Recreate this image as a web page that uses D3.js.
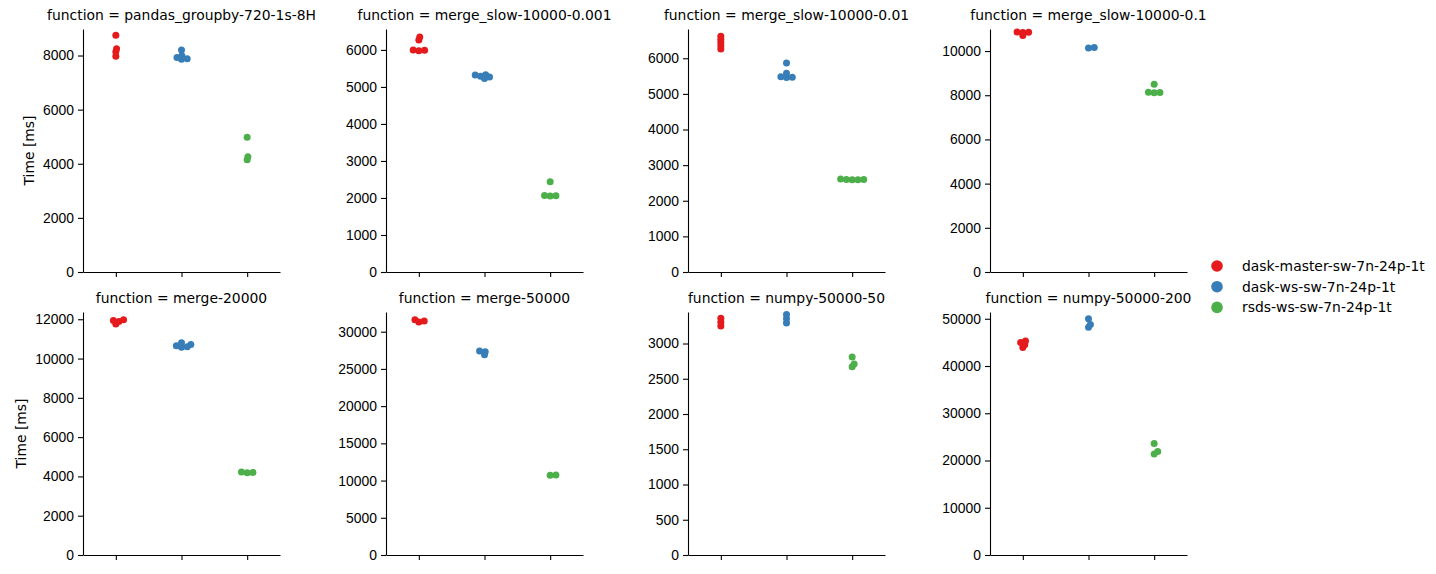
<!DOCTYPE html>
<html>
<head>
<meta charset="utf-8">
<script src="https://cdn.jsdelivr.net/npm/d3@7"></script>
<style>
  body { margin: 0; background: #fff; }
  svg { font-family: "DejaVu Sans", sans-serif; }
  .tick text { font-size: 13.9px; fill: #000; }
  .domain, .tick line { stroke: #000; stroke-width: 1.1; }
</style>
</head>
<body>
<svg width="1436" height="574"></svg>
<script>
var functions = [
  "pandas_groupby-720-1s-8H", "merge_slow-10000-0.001", "merge_slow-10000-0.01", "merge_slow-10000-0.1",
  "merge-20000", "merge-50000", "numpy-50000-50", "numpy-50000-200"
];
var clusters = ["dask-master-sw-7n-24p-1t", "dask-ws-sw-7n-24p-1t", "rsds-ws-sw-7n-24p-1t"];
var colors = ["#e41a1c", "#377eb8", "#4daf4a"];

// run times [ms], one row per function, one list per cluster
var masterTimes = [
  [8750, 8250, 8140, 7970],
  [6350, 6270, 6000, 5990, 5980],
  [6620, 6530, 6440, 6350, 6260],
  [10860, 10850, 10840, 10700],
  [11980, 11940, 11890, 11760],
  [31600, 31450, 31300],
  [3360, 3300, 3250],
  [45300, 44950, 44500, 43900]
];
var wsTimes = [
  [8200, 7990, 7930, 7880, 7860],
  [5330, 5320, 5290, 5270, 5230],
  [5870, 5580, 5480, 5470, 5460],
  [10160, 10140],
  [10800, 10720, 10650, 10600, 10580],
  [27400, 27300, 26900],
  [3410, 3350, 3290],
  [50000, 48800, 48200]
];
var rsdsTimes = [
  [4980, 4260, 4150],
  [2440, 2070, 2060, 2050],
  [2610, 2600, 2590, 2590, 2600],
  [8500, 8130, 8120, 8110],
  [4220, 4200, 4190],
  [10750, 10700],
  [2810, 2710, 2670],
  [23600, 21900, 21400]
];
var yTicks = [
  [0, 2000, 4000, 6000, 8000],
  [0, 1000, 2000, 3000, 4000, 5000, 6000],
  [0, 1000, 2000, 3000, 4000, 5000, 6000],
  [0, 2000, 4000, 6000, 8000, 10000],
  [0, 2000, 4000, 6000, 8000, 10000, 12000],
  [0, 5000, 10000, 15000, 20000, 25000, 30000],
  [0, 500, 1000, 1500, 2000, 2500, 3000],
  [0, 10000, 20000, 30000, 40000, 50000]
];

var svg = d3.select("svg");
var colLeft = [83, 386, 688, 990], rowTop = [29, 312];
var pw = 197, ph = 243, r = 3.5;
var ax = 5.8, ay = 3; // swarm spacing (points overlap as in the original)

// simple beeswarm: place each point as close to the centre as possible
function swarm(ys) {
  var placed = [];
  ys.slice().sort(function(a, b) { return b - a; }).forEach(function(y) {
    var cands = [0];
    placed.forEach(function(p) {
      var dy = Math.abs(p.y - y);
      if (dy < ay) {
        var dx = ax * Math.sqrt(1 - (dy / ay) * (dy / ay));
        cands.push(p.x + dx, p.x - dx);
      }
    });
    cands.sort(function(a, b) { return Math.abs(a) - Math.abs(b); });
    var x = cands.find(function(c) {
      return placed.every(function(p) {
        var u = (p.x - c) / ax, v = (p.y - y) / ay;
        return u * u + v * v >= 0.999;
      });
    });
    placed.push({x: x, y: y});
  });
  return placed;
}

functions.forEach(function(fn, i) {
  var row = Math.floor(i / 4), col = i % 4;
  var g = svg.append("g").attr("transform", "translate(" + colLeft[col] + "," + rowTop[row] + ")");
  var groups = [masterTimes[i], wsTimes[i], rsdsTimes[i]];
  var ext = d3.extent(d3.merge(groups));
  var y = d3.scaleLinear().domain([0, ext[1] + 0.05 * (ext[1] - ext[0])]).range([ph, 0]);
  var x = d3.scalePoint().domain(clusters).range([0, pw]).padding(0.5);

  var ya = g.append("g").call(d3.axisLeft(y).tickValues(yTicks[i]).tickFormat(d3.format("d"))
    .tickSize(5).tickPadding(4).tickSizeOuter(0));
  g.append("g").attr("transform", "translate(0," + ph + ")")
    .call(d3.axisBottom(x).tickSize(5).tickSizeOuter(0).tickFormat(""));

  groups.forEach(function(vals, k) {
    var pts = swarm(vals.map(function(v) { return y(v); }));
    g.selectAll(null).data(pts).enter().append("circle")
      .attr("cx", function(d) { return x(clusters[k]) + d.x; })
      .attr("cy", function(d) { return d.y; })
      .attr("r", r)
      .attr("fill", colors[k]);
  });

  g.append("text")
    .attr("x", pw / 2).attr("y", -9)
    .attr("text-anchor", "middle")
    .style("font-size", "13.9px")
    .text("function = " + fn);

  if (col === 0) {
    var bb = ya.node().getBBox();
    g.append("text")
      .attr("transform", "translate(" + (bb.x - 9.5) + "," + (ph / 2) + ") rotate(-90)")
      .attr("text-anchor", "middle")
      .style("font-size", "13.9px")
      .text("Time [ms]");
  }
});

// legend
var legend = svg.append("g").attr("transform", "translate(1217,266)");
clusters.forEach(function(c, k) {
  var lg = legend.append("g").attr("transform", "translate(0," + (k * 20.7) + ")");
  lg.append("circle").attr("r", 5.8).attr("fill", colors[k]);
  lg.append("text").attr("x", 25).attr("dy", "0.35em").style("font-size", "13.9px").text(c);
});
</script>
</body>
</html>
